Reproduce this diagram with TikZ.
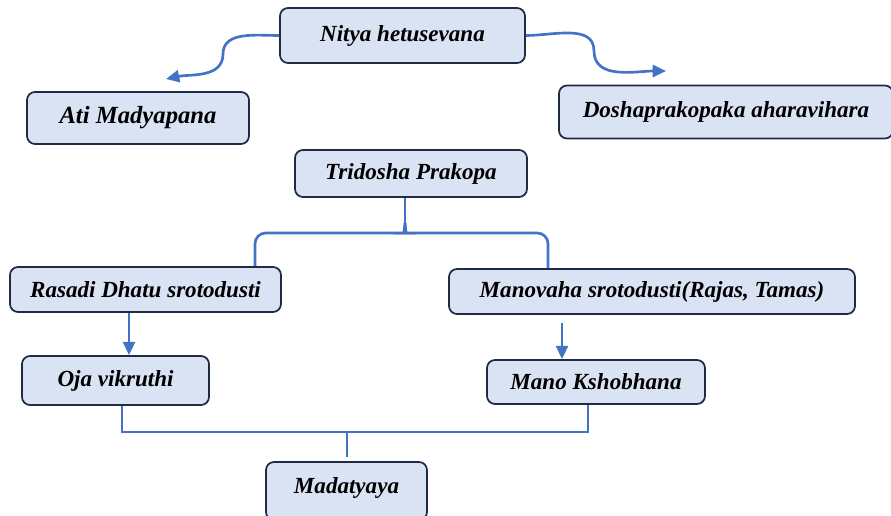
\documentclass[tikz,border=0pt]{standalone}
\usepackage{fontspec}
\setmainfont{Liberation Serif}
\usetikzlibrary{arrows.meta, calc, positioning}
\definecolor{boxfill}{HTML}{DAE3F3}
\definecolor{boxdraw}{HTML}{1F2A44}
\definecolor{linkblue}{HTML}{4472C4}

\begin{document}
\begin{tikzpicture}[x=0.75pt, y=-0.75pt]
        \def\colorfill{boxfill}
        \def\colordraw{boxdraw}
        \def\colorlink{linkblue}
        \tikzset{stage/.style={draw,
                align=center,
                line width = 1.3pt,
                fill = \colorfill,
                draw = \colordraw,
                rounded corners = 6pt,
                inner sep = 2pt,
                font = \bfseries\itshape\fontsize{17.3}{19}\selectfont
        }}
        \tikzset{link/.style={draw = \colorlink, line width = 2pt}}
        \tikzset{connector/.style={link, -{Triangle[length=10pt,width=9pt]}}}

        \useasboundingbox (0,0) rectangle (891,515);

        \node[stage, minimum width = 183.75pt, minimum height = 41.25pt] (nitya) at (402.5,35.5) {Nitya hetusevana};
        \node[stage, minimum width = 166.5pt, minimum height = 39pt, font = \bfseries\itshape\fontsize{18.5}{20}\selectfont] (ati) at (138,118) {Ati Madyapana};
        \node[stage, minimum width = 250.5pt, minimum height = 39.75pt] (dosha) at (726,112) {Doshaprakopaka aharavihara};
        \node[stage, minimum width = 174pt, minimum height = 35.25pt] (tridosha) at (411,173.5) {Tridosha Prakopa};
        \node[stage, minimum width = 203.25pt, minimum height = 33.75pt] (rasadi) at (145.5,289.5) {Rasadi Dhatu srotodusti};
        \node[stage, minimum width = 304.5pt, minimum height = 33.75pt] (manovaha) at (652,291.5) {Manovaha srotodusti(Rajas, Tamas)};
        \node[stage, minimum width = 140.25pt, minimum height = 36.75pt] (oja) at (115.5,380.5) {Oja vikruthi};
        \node[stage, minimum width = 163.5pt, minimum height = 33pt] (mano) at (596,382) {Mano Kshobhana};
        \node[stage, minimum width = 120.75pt, minimum height = 43.5pt, text depth = 8pt] (madatyaya) at (346.5,491) {Madatyaya};

        % curved arrows out of the top box
        \coordinate (atibend) at (223,54);
        \coordinate (atiend) at (166,79);
        \coordinate (doshabend) at (594,51);
        \coordinate (doshaend) at (666,71);
        \draw[connector] (nitya.west) to[out=180,in=90] (atibend) to[out=-90,in=12] (atiend);
        \draw[connector] (nitya.east) to[out=0,in=90] (doshabend) to[out=-90,in=180] (doshaend);

        % brace under Tridosha Prakopa
        \coordinate (bracetop) at (405,223);
        \draw[link] (tridosha.south -| bracetop) -- (bracetop);
        \draw[link] (rasadi.north -| 255,0) [rounded corners=8pt] |- (397,233) [sharp corners] to[out=0,in=-90] (bracetop);
        \draw[link] (manovaha.north -| 548,0) [rounded corners=8pt] |- (413,233) [sharp corners] to[out=180,in=-90] (bracetop);

        \draw[connector] (rasadi.south -| 129,0) -- (oja.north -| 129,0);
        \draw[connector, shorten <=6pt] (manovaha.south -| 562,0) -- (mano.north -| 562,0);

        % joining into Madatyaya
        \coordinate (joint) at (347,432);
        \draw[link] (oja.south -| 122,0) |- (joint) -| (mano.south -| 588,0);
        \draw[link, shorten >=3pt] (joint) -- (madatyaya.north -| joint);
\end{tikzpicture}
\end{document}
